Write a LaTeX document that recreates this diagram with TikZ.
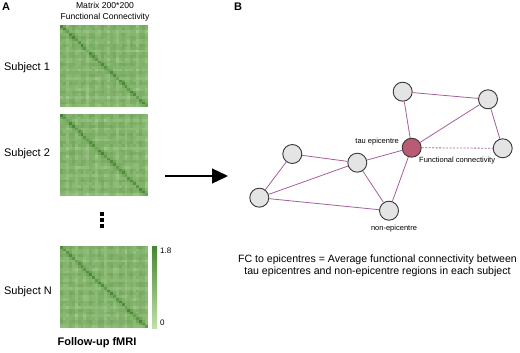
\documentclass[tikz,border=0pt]{standalone}
\usepackage{fontspec}
\setmainfont{Liberation Sans}
\usetikzlibrary{arrows.meta}
\definecolor{fclight}{RGB}{192,224,170}
\definecolor{fcdark}{RGB}{70,134,48}
\definecolor{edgec}{RGB}{165,95,155}
\definecolor{nodefill}{RGB}{228,228,228}
\definecolor{nodedraw}{RGB}{55,55,55}
\definecolor{epifill}{RGB}{185,92,115}
\newcommand{\fcmatrix}[3]{%
  \foreach \i in {1,...,30}{
    \foreach \j in {1,...,30}{
      \pgfmathsetmacro\val{min(100,20+16*(abs(sin(\i*53+#3))+abs(sin(\j*53+#3)))+12*abs(sin(mod(\i*\j,97)*37+#3*7))+28*(\i==\j)+10*(abs(\i-\j)<2))}
      \fill[fcdark!\val!fclight] ({#1+(\i-1)*88/30},{#2+(\j-1)*82/30}) rectangle ++(88/30+0.05,82/30+0.05);
    }
  }
}
\tikzset{
  panel/.style={font=\bfseries\fontsize{11}{13}\selectfont},
  subj/.style={font=\fontsize{11}{13}\selectfont},
  small/.style={font=\fontsize{8.6}{10.5}\selectfont, align=center},
  roi/.style={circle, draw=nodedraw, fill=nodefill, line width=0.9pt, minimum size=19pt, inner sep=0pt},
  epi/.style={roi, fill=epifill},
  link/.style={draw=edgec, line width=0.8pt},
  lab/.style={font=\fontsize{7.5}{9}\selectfont, inner sep=1pt},
}
\begin{document}
\begin{tikzpicture}[x=1pt,y=-1pt]
\useasboundingbox (0,0) rectangle (520,353);
% panel A
\node[panel] (A) at (6,7) {A};
\node[panel] (B) at (238,7) {B};
\node[small, inner sep=0pt] (title) at (105,12) {Matrix 200*200\\Functional Connectivity};
\fcmatrix{60}{25}{11}
\fcmatrix{60}{114}{29}
\fcmatrix{60}{246}{47}
\node[subj] (s1) at (27,68) {Subject 1};
\node[subj] (s2) at (27,154) {Subject 2};
\node[subj] (sN) at (28,292) {Subject N};
\shade[top color=fcdark, bottom color=fclight] (152,246) rectangle (157,328);
\node[lab, font=\fontsize{8}{9}\selectfont, anchor=west] (cmax) at (159,251) {1.8};
\node[lab, font=\fontsize{8}{9}\selectfont, anchor=west] (cmin) at (159,323) {0};
\foreach \yy in {214,220,226}{\fill (100,\yy-1.8) rectangle (104,\yy+1.8);}
\node[panel] (fmri) at (97,343) {Follow-up fMRI};
% arrow
\coordinate (a0) at (165,176);
\coordinate (a1) at (228,176);
\draw[line width=1.3pt, -{Triangle[length=16pt,width=15pt]}] (a0) -- (a1);
% panel B network
\node[roi] (n1) at (402.7,91.7) {};
\node[roi] (n2) at (488,99.3) {};
\node[roi] (n3) at (502.7,148.3) {};
\node[roi] (n5) at (292.3,154) {};
\node[roi] (n6) at (357.3,162.7) {};
\node[roi] (n7) at (259.3,197.7) {};
\node[roi] (n8) at (389,210.7) {};
\node[epi] (ep) at (411.7,147.7) {};
\draw[link] (n1) -- (n2);
\draw[link] (n1) -- (ep);
\draw[link] (n2) -- (ep);
\draw[link] (n2) -- (n3);
\draw[link, dash pattern=on 2pt off 1.5pt] (ep) -- (n3);
\draw[link] (ep) -- (n6);
\draw[link] (ep) -- (n8);
\draw[link] (n5) -- (n6);
\draw[link] (n5) -- (n7);
\draw[link] (n6) -- (n7);
\draw[link] (n6) -- (n8);
\draw[link] (n7) -- (n8);
\node[lab, anchor=east] (tauep) at (400,141.5) {tau epicentre};
\node[lab, anchor=west] (fc) at (418,160.5) {Functional connectivity};
\node[lab] (nonep) at (394,229) {non-epicentre};
\node[font=\fontsize{10.6}{11.5}\selectfont, align=center] (desc) at (377.5,266) {FC to epicentres = Average functional connectivity between\\tau epicentres and non-epicentre regions in each subject};
\end{tikzpicture}
\end{document}
